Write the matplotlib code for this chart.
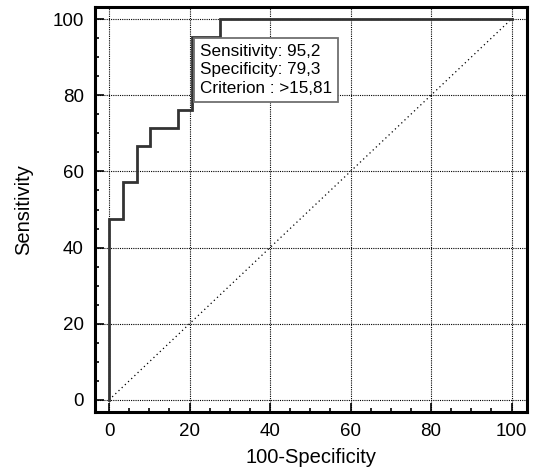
import matplotlib
matplotlib.use("Agg")
import matplotlib.pyplot as plt
from matplotlib.ticker import MultipleLocator

plt.rcParams['font.family'] = ['Liberation Sans', 'DejaVu Sans']

# ROC curve corner points (100-Specificity, Sensitivity)
fpr = [0, 0, 3.4, 3.4, 6.9, 6.9, 10.3, 10.3, 17.2, 17.2, 20.7, 20.7, 27.6, 27.6, 100]
tpr = [0, 47.6, 47.6, 57.1, 57.1, 66.7, 66.7, 71.4, 71.4, 76.2, 76.2, 95.2, 95.2, 100, 100]
diag = [0, 100]
crit_x, crit_y = 20.7, 95.2
box_lines = ["Sensitivity: 95,2", "Specificity: 79,3", "Criterion : >15,81"]
ticks = [0, 20, 40, 60, 80, 100]

fig = plt.figure(figsize=(5.45, 4.75), dpi=100)
ax = fig.add_axes([95/545, 63/475, 432/545, 405/475])

ax.set_xlim(-3.48, 103.85)
ax.set_ylim(-3.16, 103.16)

ax.set_xticks(ticks)
ax.set_yticks(ticks)
ax.xaxis.set_minor_locator(MultipleLocator(5))
ax.yaxis.set_minor_locator(MultipleLocator(5))
ax.grid(True, which='major', color='black', linestyle=(0, (1, 1)), linewidth=0.8)

ax.plot(diag, diag, color='black', linestyle=(0, (1, 2.5)), linewidth=0.9)
ax.plot(fpr, tpr, color='#333333', linewidth=2.0, solid_joinstyle='miter')

ax.annotate("\n".join(box_lines), xy=(crit_x, crit_y), xytext=(5.5, -4.5),
            textcoords='offset points', ha='left', va='top', fontsize=12.3,
            linespacing=1.3, zorder=10,
            bbox=dict(boxstyle='square,pad=0.35', facecolor='white',
                      edgecolor='#707070', linewidth=1.3))

for s in ax.spines.values():
    s.set_linewidth(2.2)
    s.set_color('black')

ax.tick_params(which='both', direction='in', top=False, right=False, width=1.2, colors='black')
ax.tick_params(which='major', length=6.5, labelsize=13.5, pad=8)
ax.tick_params(which='minor', length=3)

ax.set_xlabel("100-Specificity", fontsize=14.5, labelpad=6)
ax.set_ylabel("Sensitivity", fontsize=14.5, labelpad=14)

fig.savefig("out.png", dpi=100)
